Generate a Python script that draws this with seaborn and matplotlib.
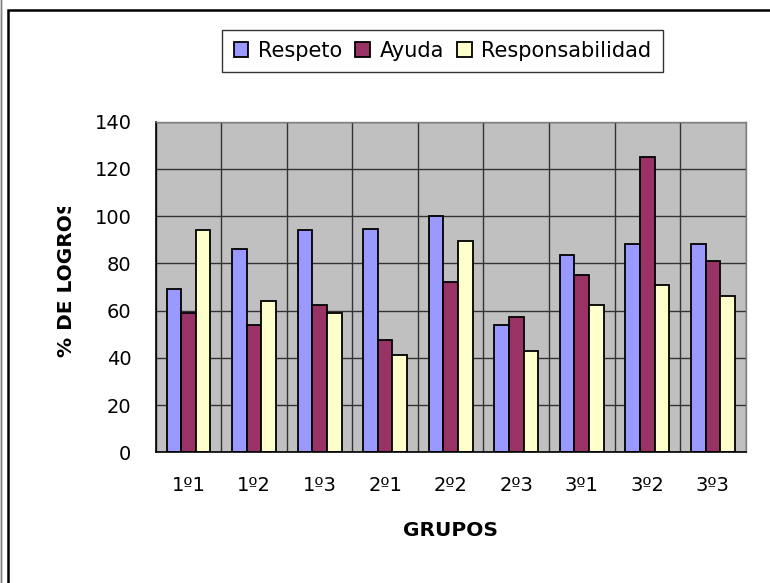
import pandas as pd
import matplotlib.pyplot as plt
import seaborn as sns
from matplotlib.patches import Rectangle

# values
grupos = ['1º1', '1º2', '1º3', '2º1', '2º2', '2º3', '3º1', '3º2', '3º3']
respeto = [69, 86, 94, 94.5, 100, 54, 83.5, 88, 88]
ayuda = [59, 54, 62.5, 47.5, 72, 57.5, 75, 125, 81]
responsabilidad = [94, 64, 59, 41, 89.5, 43, 62.5, 71, 66]
series = ['Respeto', 'Ayuda', 'Responsabilidad']
colores = ['#9999FF', '#993366', '#FFFFCC']

df = pd.DataFrame({'grupo': grupos * 3,
                   'serie': [s for s in series for _ in grupos],
                   'valor': respeto + ayuda + responsabilidad})

sns.set_style('white')
plt.rcParams['font.family'] = ['DejaVu Sans']
plt.rcParams['text.color'] = 'black'
plt.rcParams['axes.labelcolor'] = 'black'
plt.rcParams['xtick.labelcolor'] = 'black'
plt.rcParams['ytick.labelcolor'] = 'black'

W, H = 770, 583
fig = plt.figure(figsize=(W / 100, H / 100), dpi=100)
ax = fig.add_axes([155.7 / W, 1 - 452.3 / H, 590 / W, 330.6 / H])
ax.set_facecolor('#C0C0C0')

sns.barplot(data=df, x='grupo', y='valor', hue='serie', palette=colores,
            saturation=1, width=0.67, edgecolor='black', linewidth=1.3, ax=ax)

ax.set_xlim(-0.5, 8.5)
ax.set_ylim(0, 140)
ax.set_yticks(range(0, 141, 20))
ax.set_xticks([i + 0.5 for i in range(-1, 9)], minor=True)
ax.tick_params(axis='x', which='major', length=0, labelsize=14, pad=17, labelcolor='black')
ax.tick_params(axis='x', which='minor', length=5, width=1, color='#333333', direction='out')
ax.tick_params(axis='y', length=7, width=1, color='#333333', labelsize=14, pad=10.5,
               direction='out', labelcolor='black')
ax.grid(True, axis='y', color='#333333', linewidth=1)
ax.grid(True, axis='x', which='minor', color='#333333', linewidth=1)
ax.grid(False, axis='x', which='major')
ax.set_axisbelow(True)
for s in ['top', 'right']:
    ax.spines[s].set_color('#808080')
    ax.spines[s].set_linewidth(1)
for s in ['left', 'bottom']:
    ax.spines[s].set_color('black')
    ax.spines[s].set_linewidth(1.2)

ax.set_xlabel('GRUPOS', fontsize=14.5, fontweight='bold', labelpad=19, color='black')
ax.set_ylabel('')
fig.text(67 / W, 1 - 278 / H, '% DE LOGROS', rotation=90, ha='center', va='center',
         fontsize=14.5, fontweight='bold', color='black')
# the original label is cut off at its top end
fig.add_artist(Rectangle((45 / W, 1 - 207 / H), 45 / W, 90 / H, transform=fig.transFigure,
                         facecolor='white', edgecolor='none', zorder=10))

handles, labels = ax.get_legend_handles_labels()
leg = ax.legend(handles, labels, ncol=3, loc='center',
                bbox_to_anchor=(442.5 / W, 1 - 51 / H), bbox_transform=fig.transFigure,
                frameon=True, fancybox=False, edgecolor='#333333', fontsize=15,
                handlelength=0.7, handleheight=0.7, handletextpad=0.45,
                columnspacing=0.65, borderpad=0.55, framealpha=1)
leg.get_frame().set_linewidth(1)
for t in leg.get_texts():
    t.set_color('black')

# chart border (left and top visible)
fig.add_artist(Rectangle((8 / W, -0.1), 1.2, 1.1 - 10 / H, transform=fig.transFigure,
                         fill=False, edgecolor='black', linewidth=1.8))
fig.add_artist(Rectangle((0.5 / W, -0.1), 0, 1.2, transform=fig.transFigure,
                         fill=False, edgecolor='#808080', linewidth=1))

fig.savefig('out.png', dpi=100)
